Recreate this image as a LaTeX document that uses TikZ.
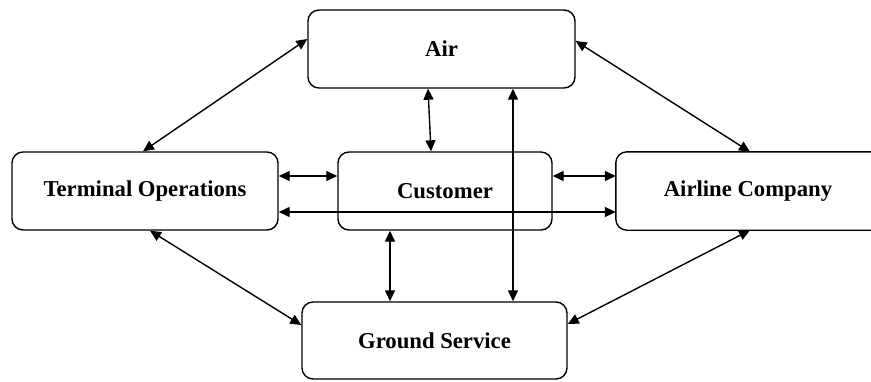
\documentclass[tikz,border=0pt]{standalone}
\usepackage{fontspec}
\setmainfont{Liberation Serif}
\usetikzlibrary{arrows.meta,calc}
\begin{document}
\begin{tikzpicture}[x=1pt,y=-1pt,
  label font/.style={font=\fontsize{22.7}{26}\selectfont\bfseries},
  frame/.style={line width=1.4pt,rounded corners=11pt},
  block/.style={draw,frame,inner sep=0pt,label font},
  link/.style={line width=1.4pt,{Triangle[length=11pt,width=10pt]}-{Triangle[length=11pt,width=10pt]}}]
\useasboundingbox (0,0) rectangle (871,381);
\clip (0,0) rectangle (871,381);
% boxes
\node[block,minimum width=267pt,minimum height=78pt] (air)  at (441.5,49) {Air};
\node[block,minimum width=266pt,minimum height=78pt] (ter)  at (145,191) {Terminal Operations};
\node[block,minimum width=214pt,minimum height=78pt] (cus)  at (445,191) {Customer};
% the airline box runs on past the right margin, so only three sides show
\node[inner sep=0pt,minimum width=300pt,minimum height=78pt] (airl) at (766,191) {};
\draw[frame] (airl.north east) -- (airl.north west) -- (airl.south west) -- (airl.south east);
\node[label font,inner sep=0pt] (airltext) at (748,191) {Airline Company};
\node[block,minimum width=265pt,minimum height=77pt] (gnd)  at (434.5,340.5) {Ground Service};
% connectors
\draw[link] (ter.north -| 143,0) -- (air.west |- 0,39);
\draw[link] (air.east |- 0,41) -- (airl.north -| 750,0);
\draw[link] (air.south -| 428,0) -- (cus.north -| 431,0);
\draw[link] (air.south -| 513,0) -- (gnd.north -| 513,0);
\draw[link] (ter.east |- 0,176) -- (cus.west |- 0,176);
\draw[link] (ter.east |- 0,212) -- (airl.west |- 0,212);
\draw[link] (cus.east |- 0,176) -- (airl.west |- 0,176);
\draw[link] (cus.south -| 390,0) -- (gnd.north -| 390,0);
\draw[link] (ter.south -| 150,0) -- (gnd.west |- 0,325);
\draw[link] (airl.south -| 750,0) -- (gnd.east |- 0,324);
\end{tikzpicture}
\end{document}
